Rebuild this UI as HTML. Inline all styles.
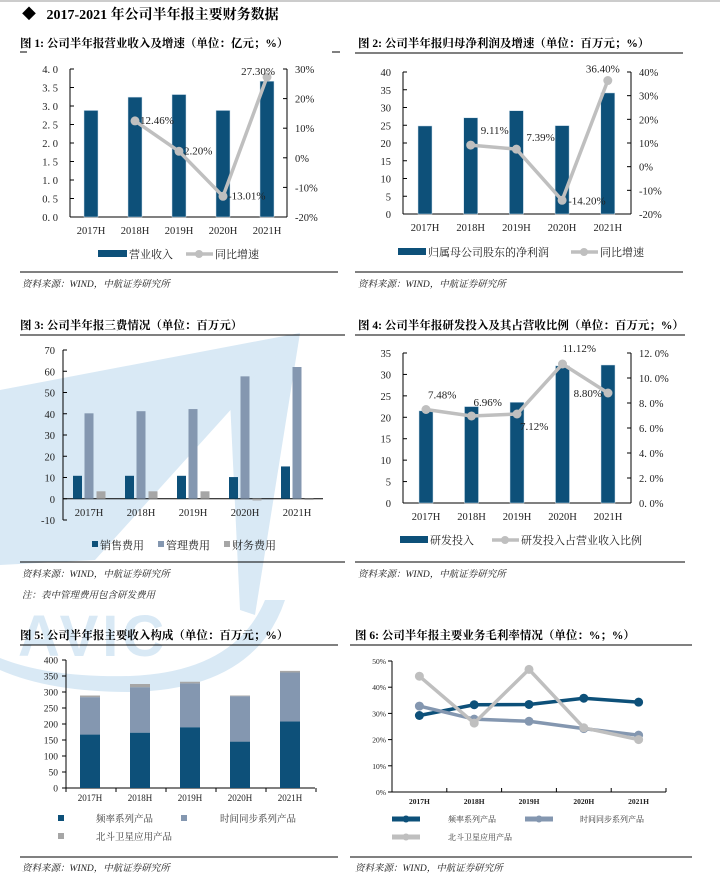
<!DOCTYPE html>
<html><head><meta charset="utf-8">
<style>
body{margin:0;width:720px;height:885px;background:#fff;position:relative;overflow:hidden;font-family:"Liberation Serif","Noto Serif CJK SC",serif;}
.t{position:absolute;white-space:nowrap;color:#000;}
.h{font-size:11.5px;font-weight:bold;}
.src{font-size:9.5px;font-style:italic;color:#222;}
svg{position:absolute;left:0;top:0;}
</style></head>
<body>
<svg width="720" height="885" style="z-index:0">
  <polygon points="0,390 300,333 95,560 0,565" fill="#d9e9f5"/>
  <polygon points="230,400 300,333 255,615 240,610" fill="#d9e9f5"/>
  <path d="M285,600 Q255,690 130,692 Q50,692 0,670 L0,658 Q50,678 130,676 Q235,672 265,600 Z" fill="#d9e9f5"/>
  <text x="18" y="656" font-family="Liberation Sans" font-weight="bold" font-size="58" letter-spacing="4" fill="#d9e9f5">AVIC</text>
</svg>
<div style="position:absolute;left:0;top:0;width:720px;height:2px;background:#ccc"></div>
<div class="t" style="left:22px;top:4px;font-size:14px;font-weight:bold">◆&nbsp;&nbsp;&nbsp;2017-2021 年公司半年报主要财务数据</div>

<div class="t h" style="left:20px;top:35px">图 1: 公司半年报营业收入及增速（单位：亿元；%）</div>
<div class="t h" style="left:358px;top:35px">图 2: 公司半年报归母净利润及增速（单位：百万元；%）</div>
<div class="t h" style="left:20px;top:317px">图 3: 公司半年报三费情况（单位：百万元）</div>
<div class="t h" style="left:358px;top:317px">图 4: 公司半年报研发投入及其占营收比例（单位：百万元；%）</div>
<div class="t h" style="left:20px;top:627px">图 5: 公司半年报主要收入构成（单位：百万元；%）</div>
<div class="t h" style="left:355px;top:627px">图 6: 公司半年报主要业务毛利率情况（单位：%；%）</div>

<div class="t src" style="left:22px;top:276px">资料来源：WIND，中航证券研究所</div>
<div class="t src" style="left:358px;top:276px">资料来源：WIND，中航证券研究所</div>
<div class="t src" style="left:22px;top:566px">资料来源：WIND，中航证券研究所</div>
<div class="t src" style="left:22px;top:587px">注：表中管理费用包含研发费用</div>
<div class="t src" style="left:358px;top:566px">资料来源：WIND，中航证券研究所</div>
<div class="t src" style="left:22px;top:860px">资料来源：WIND，中航证券研究所</div>
<div class="t src" style="left:355px;top:860px">资料来源：WIND，中航证券研究所</div>

<svg id="c" width="720" height="885" style="z-index:1"></svg>
<script>
const cats=['2017H','2018H','2019H','2020H','2021H'];
// chart 1
const rev=[2.88,3.24,3.31,2.88,3.67];
const revGrowth=[null,12.46,2.20,-13.01,27.30];
const revGrowthLabels=['','12.46%','2.20%','-13.01%','27.30%'];
const c1LeftTicks=[0,0.5,1,1.5,2,2.5,3,3.5,4];
const c1RightTicks=[-20,-10,0,10,20,30];
// chart 2
const profit=[24.8,27.1,29.1,24.9,34.1];
const profitGrowth=[null,9.11,7.39,-14.20,36.40];
const profitGrowthLabels=['','9.11%','7.39%','-14.20%','36.40%'];
const c2LeftTicks=[0,5,10,15,20,25,30,35,40];
const c2RightTicks=[-20,-10,0,10,20,30,40];
// chart 3
const salesExp=[10.8,10.8,10.8,10.2,15.2];
const mgmtExp=[40.2,41.2,42.2,57.6,62.0];
const finExp=[3.5,3.5,3.5,-0.8,-0.6];
const c3Ticks=[-10,0,10,20,30,40,50,60,70];
// chart 4
const rd=[21.5,22.5,23.5,32.0,32.2];
const rdRatio=[7.48,6.96,7.12,11.12,8.80];
const rdRatioLabels=['7.48%','6.96%','7.12%','11.12%','8.80%'];
const c4LeftTicks=[0,5,10,15,20,25,30,35];
const c4RightTicks=[0,2,4,6,8,10,12];
// chart 5
const freqRev=[167,173,190,145,208];
const timeRev=[117,142,137,142,153];
const bdRev=[5,10,5,2,5];
const c5Ticks=[0,50,100,150,200,250,300,350,400];
// chart 6
const freqMargin=[29.2,33.3,33.4,35.8,34.3];
const timeMargin=[32.8,27.8,27.0,24.2,21.7];
const bdMargin=[44.2,26.3,46.8,24.5,20.0];
const c6Ticks=[0,10,20,30,40,50];

const NS='http://www.w3.org/2000/svg';
const svg=document.getElementById('c');
function mk(tag,attrs,name,parent){
  const el=document.createElementNS(NS,tag);
  for(const k in attrs) el.setAttribute(k,attrs[k]);
  
  
  (parent||svg).appendChild(el);
  return el;
}
function txt(x,y,s,name,o){
  o=o||{};
  const el=mk('text',{x:x,y:y,'font-size':o.fs||10.5,'text-anchor':o.a||'start','font-family':'"Liberation Serif","Noto Serif CJK SC",serif',fill:o.fill||'#222','font-weight':o.fw||'normal'},name);
  el.textContent=s;return el;
}
function lin(v,d0,d1,r0,r1){return r0+(v-d0)/(d1-d0)*(r1-r0);}
function line(x1,y1,x2,y2,name,c,w){return mk('line',{x1:x1,y1:y1,x2:x2,y2:y2,stroke:c||'#000','stroke-width':w||1},name);}
const DARK='#0d5079',GRAY='#bfbfbf',BLUEGRAY='#8497b0',LGRAY='#a6a6a6';
function fmt(v,d){return v.toFixed(d).replace('.','. ');}

line(20,52,27,52,'fig1-title-rule-left');line(332,52,340,52,'fig1-title-rule-right');
line(355,53,683,53,'fig2-title-rule');
line(20,272,338,272,'fig1-source-rule');line(355,272,683,272,'fig2-source-rule');
line(20,335,345,335,'fig3-title-rule');line(355,335,685,335,'fig4-title-rule');
line(20,562,345,562,'fig3-source-rule');line(355,562,685,562,'fig4-source-rule');
line(20,645,338,645,'fig5-title-rule');line(350,645,692,645,'fig6-title-rule');
line(20,857,338,857,'fig5-source-rule');line(350,857,692,857,'fig6-source-rule');

function comboChart(p){
  const {L,R,T,B,bars,lineV,labels,lt,rt,ld,rd2,lfmt,rfmt,cx0,step,bw,pre,lineOff}=p;
  line(L,T,L,B,pre+'-left-axis');line(R,T,R,B,pre+'-right-axis');line(L,B,R,B,pre+'-x-axis');
  lt.forEach(v=>{const y=lin(v,ld[0],ld[1],B,T);line(L,y,L+4,y,pre+'-left-tick');txt(L-12,y+4,lfmt(v),pre+'-left-tick-label',{a:'end'});});
  rt.forEach(v=>{const y=lin(v,rd2[0],rd2[1],B,T);line(R-4,y,R,y,pre+'-right-tick');txt(R+8,y+4,rfmt(v),pre+'-right-tick-label');});
  const xs=cats.map((c,i)=>cx0+i*step);
  cats.forEach((c,i)=>txt(xs[i],B+17,c,pre+'-x-label',{a:'middle'}));
  bars.forEach((v,i)=>{const y=lin(v,ld[0],ld[1],B,T);mk('rect',{x:xs[i]-bw/2,y:y,width:bw,height:B-y,fill:DARK,stroke:'#cfe0ee','stroke-width':0.5},pre+'-bar-'+cats[i]);});
  const pts=[];lineV.forEach((v,i)=>{if(v!==null)pts.push([xs[i],lin(v,rd2[0],rd2[1],B,T),i]);});
  mk('polyline',{points:pts.map(q=>q[0]+','+q[1]).join(' '),fill:'none',stroke:GRAY,'stroke-width':3.5},pre+'-growth-line');
  pts.forEach(q=>{mk('circle',{cx:q[0],cy:q[1],r:4.5,fill:GRAY},pre+'-growth-point-'+cats[q[2]]);
    const o=lineOff[q[2]];txt(q[0]+o[0],q[1]+o[1],labels[q[2]],pre+'-growth-label',{a:o[2]||'start',fs:11});});
}
comboChart({pre:'fig1',L:70,R:287,T:69,B:217,bars:rev,lineV:revGrowth,labels:revGrowthLabels,lt:c1LeftTicks,rt:c1RightTicks,ld:[0,4],rd2:[-20,30],lfmt:v=>fmt(v,1),rfmt:v=>v+'%',cx0:91,step:44,bw:14,lineOff:[[0,0],[5,3],[5,3],[5,3],[8,-2,'end']]});
comboChart({pre:'fig2',L:403,R:631,T:72,B:214,bars:profit,lineV:profitGrowth,labels:profitGrowthLabels,lt:c2LeftTicks,rt:c2RightTicks,ld:[0,40],rd2:[-20,40],lfmt:v=>''+v,rfmt:v=>v+'%',cx0:425,step:45.7,bw:14,lineOff:[[0,0],[10,-11],[10,-8],[6,4],[12,-8,'end']]});
comboChart({pre:'fig4',L:403,R:631,T:353,B:503,bars:rd,lineV:rdRatio,labels:rdRatioLabels,lt:c4LeftTicks,rt:c4RightTicks,ld:[0,35],rd2:[0,12],lfmt:v=>''+v,rfmt:v=>fmt(v,1)+'%',cx0:426,step:45.5,bw:14,lineOff:[[2,-11],[2,-10],[3,16],[0,-12],[-6,4,'end']]});
// chart 3
(function(){
  const L=63,R=323,T=350,B=520,pre='fig3';
  const y0=lin(0,-10,70,B,T);
  line(L,T,L,B,pre+'-y-axis');line(L,y0,R,y0,pre+'-x-axis');
  c3Ticks.forEach(v=>{const y=lin(v,-10,70,B,T);line(L,y,L+4,y,pre+'-y-tick');txt(L-8,y+4,''+v,pre+'-y-tick-label',{a:'end'});});
  const xs=cats.map((c,i)=>89+i*52);
  cats.forEach((c,i)=>txt(xs[i],y0+17,c,pre+'-x-label',{a:'middle'}));
  [[salesExp,DARK,-11.5,'sales'],[mgmtExp,BLUEGRAY,0,'mgmt'],[finExp,LGRAY,12,'fin']].forEach(s=>{
    s[0].forEach((v,i)=>{const y=lin(v,-10,70,B,T);mk('rect',{x:xs[i]+s[2]-4.5,y:Math.min(y,y0),width:9,height:Math.max(Math.abs(y0-y),0.8),fill:s[1]},pre+'-bar-'+s[3]+'-'+cats[i]);});
  });
  [[DARK,'销售费用',92],[BLUEGRAY,'管理费用',158],[LGRAY,'财务费用',224]].forEach(l=>{mk('rect',{x:l[2],y:541,width:6,height:6,fill:l[0]},pre+'-legend-swatch');txt(l[2]+8,549,l[1],pre+'-legend-label',{fs:11});});
})();
// chart 5
(function(){
  const L=66,R=315,T=660,B=788,pre='fig5';
  line(L,T,L,B,pre+'-y-axis');line(L,B,R,B,pre+'-x-axis');
  c5Ticks.forEach(v=>{const y=lin(v,0,400,B,T);line(L-4,y,L,y,pre+'-y-tick');txt(L-8,y+3.5,''+v,pre+'-y-tick-label',{a:'end',fs:9.5});});
  for(let i=0;i<=5;i++){const x=L+i*50;line(x,B,x,B+4,pre+'-x-tick');}
  const xs=cats.map((c,i)=>90+i*50);
  cats.forEach((c,i)=>txt(xs[i],B+13,c,pre+'-x-label',{a:'middle',fs:9}));
  cats.forEach((c,i)=>{let base=0;[[freqRev,DARK,'freq'],[timeRev,BLUEGRAY,'time'],[bdRev,LGRAY,'beidou']].forEach(s=>{
    const v=s[0][i];const y1=lin(base,0,400,B,T),y2=lin(base+v,0,400,B,T);
    mk('rect',{x:xs[i]-10,y:y2,width:20,height:y1-y2,fill:s[1]},pre+'-bar-'+s[2]+'-'+c);base+=v;});});
  [[DARK,'频率系列产品',58,96,822],[BLUEGRAY,'时间同步系列产品',181,220,822],[LGRAY,'北斗卫星应用产品',58,96,840]].forEach(l=>{
    mk('rect',{x:l[2],y:l[4]-7,width:6,height:6,fill:l[0]},pre+'-legend-swatch');txt(l[3],l[4],l[1],pre+'-legend-label',{fs:9.5,fill:'#333'});});
})();
// chart 6
(function(){
  const L=392,R=666,T=661,B=792,pre='fig6';
  line(L,T,L,B,pre+'-y-axis');line(L,B,R,B,pre+'-x-axis');
  c6Ticks.forEach(v=>{const y=lin(v,0,50,B,T);line(L-4,y,L,y,pre+'-y-tick');txt(L-6,y+3,v+'%',pre+'-y-tick-label',{a:'end',fs:7.5});});
  const step=(R-L)/5;
  for(let i=0;i<=5;i++){const x=L+i*step;line(x,B,x,B-4,pre+'-x-tick');}
  const xs=cats.map((c,i)=>L+step*(i+0.5));
  cats.forEach((c,i)=>txt(xs[i],B+12,c,pre+'-x-label',{a:'middle',fs:7.5,fw:'bold'}));
  [[freqMargin,DARK,'freq'],[timeMargin,BLUEGRAY,'time'],[bdMargin,GRAY,'beidou']].forEach(s=>{
    const pts=s[0].map((v,i)=>[xs[i],lin(v,0,50,B,T)]);
    mk('polyline',{points:pts.map(q=>q.join(',')).join(' '),fill:'none',stroke:s[1],'stroke-width':3.5},pre+'-line-'+s[2]);
    pts.forEach((q,i)=>mk('circle',{cx:q[0],cy:q[1],r:4.5,fill:s[1]},pre+'-point-'+s[2]+'-'+cats[i]));
  });
  [[DARK,'频率系列产品',392,448,822],[BLUEGRAY,'时间同步系列产品',525,580,822],[GRAY,'北斗卫星应用产品',392,448,840]].forEach(l=>{
    line(l[2],l[4]-3,l[2]+28,l[4]-3,pre+'-legend-line',l[0],5);mk('circle',{cx:l[2]+14,cy:l[4]-3,r:3.5,fill:l[0]},pre+'-legend-dot');
    txt(l[3],l[4],l[1],pre+'-legend-label',{fs:8,fill:'#333'});});
})();
function comboLegend(pre,rx,ry,rw,t1,lx,t2){
  mk('rect',{x:rx,y:ry-4,width:rw,height:7,fill:DARK},pre+'-legend-bar-swatch');
  txt(rx+rw+2,ry+4,t1,pre+'-legend-bar-label',{fs:11});
  line(lx,ry,lx+27,ry,pre+'-legend-line-swatch',GRAY,3.5);mk('circle',{cx:lx+13,cy:ry,r:4,fill:GRAY},pre+'-legend-line-dot');
  txt(lx+29,ry+4,t2,pre+'-legend-line-label',{fs:11});
}
comboLegend('fig1',98,254,29,'营业收入',186,'同比增速');
comboLegend('fig2',398,252,28,'归属母公司股东的净利润',571,'同比增速');
comboLegend('fig4',400,540,28,'研发投入',492,'研发投入占营业收入比例');
</script>
</body></html>
